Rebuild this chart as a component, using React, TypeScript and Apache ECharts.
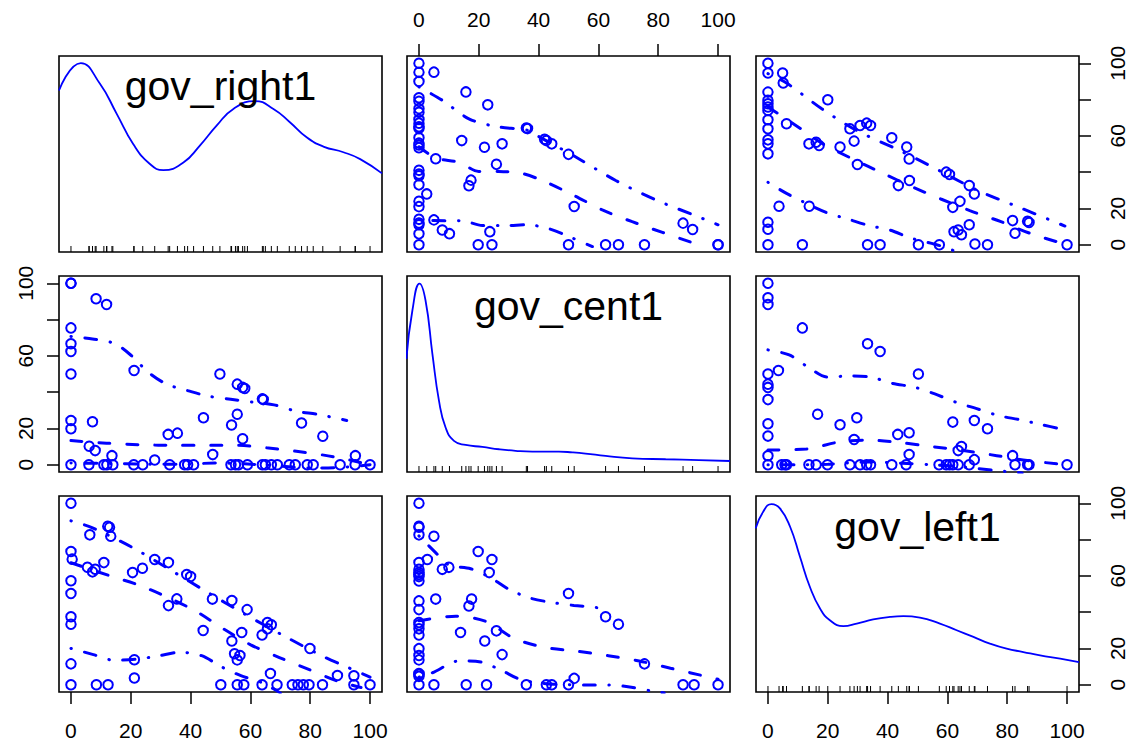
import React, { useEffect, useRef } from 'react';
import * as echarts from 'echarts';

// ---------- data ----------
const variableNames = ['gov_right1', 'gov_cent1', 'gov_left1'];
const tickValues = [0, 20, 40, 60, 80, 100];
const sideLabelValues = [0, 20, 60, 100];

// observations as [gov_cent1, gov_right1]
const centRight: [number, number][] = [
  [100, 0], [100, 0], [91.5, 8.4], [88.3, 11.9], [75.4, 0], [66.7, 0], [62.4, 0], [50, 0],
  [51.9, 21.1], [50, 49.8], [44.4, 55.6], [42.6, 57.4], [42, 58.1], [35.9, 64.3], [36.3, 64.0],
  [25.9, 44.3], [27.8, 55.6], [21.9, 53.7], [23, 77.1], [24.4, 0], [19.8, 0], [23.7, 7.2],
  [16.7, 32.5], [17.4, 35.6], [15.7, 84.2], [14.3, 57.4], [10.2, 6.1], [7.8, 8.1], [5, 13.7],
  [5.6, 47.4], [5, 95.1], [2.6, 28],
  [0, 0], [0, 6], [0, 11], [0, 12], [0, 14], [0, 21], [0, 24], [0, 33], [0, 38], [0, 39], [0, 41],
  [0, 53.5], [0, 55], [0, 56], [0, 59], [0, 64], [0, 65], [0, 67], [0, 69], [0, 73], [0, 75],
  [0, 79], [0, 81], [0, 90], [0, 95], [0, 100],
];

// observations as [gov_left1, gov_right1]
const leftRight: [number, number][] = [
  [0, 100], [0, 94.6], [0, 84.1], [0, 79.6], [0, 77.7], [0, 75.9], [0, 74], [0, 68.9], [0, 63.9],
  [0, 57.8], [0, 55.6], [0, 50.1], [0, 12.4], [0, 8.5], [0, 0],
  [4.9, 94.6], [5.1, 89.1], [6.2, 66.7], [20, 79.9], [3.7, 21.2], [11.5, 0], [13.8, 21.2],
  [13.7, 55.6], [16.1, 56.5], [17.1, 54.7], [24.1, 53.8], [27.4, 63.9], [28.8, 57.1], [29.9, 44.2],
  [30.8, 65.7], [33.0, 67], [34.3, 65.7], [33.3, 0], [37.5, 0], [41.4, 58.9], [43.6, 32.6],
  [46.4, 53.8], [47.2, 47.3], [47.3, 35.4], [50.3, 0], [57.3, 0], [59.6, 40], [60.7, 38.7],
  [61.8, 20.6], [62.2, 7.2], [63.6, 8.1], [64.7, 5.5], [64.2, 23.9], [67.3, 11], [67.3, 32.6],
  [69, 28], [69.2, 0.4], [73.4, 0], [81.8, 13.3], [82.6, 6.3], [86.8, 12.9], [87.3, 12.3], [100, 0],
];

// observations as [gov_left1, gov_cent1]
const leftCent: [number, number][] = [
  [0, 100], [0, 92], [0, 88.3], [0, 50], [0, 44.4], [0, 42.6], [0, 35.9], [0, 22.6], [0, 15.8],
  [0, 5], [0, 0],
  [11.5, 75.4], [3.5, 51.9], [33.3, 66.7], [37.5, 62.4], [50.3, 50], [16.6, 27.8], [24.1, 22],
  [29.7, 25.9], [28.8, 13.9], [43.4, 16.7], [47.2, 17.6], [47.2, 5.6], [61.8, 23.5], [69, 24.4],
  [73.4, 19.8], [64.7, 10], [63.6, 7.8], [69, 2.8], [81.8, 5], [82.6, 0],
  [4.6, 0], [5.7, 0], [6.2, 0], [13.7, 0], [16.1, 0], [19.9, 0], [27.4, 0], [30.8, 0], [33.0, 0],
  [34.3, 0], [41.4, 0], [46.2, 0], [57.2, 0], [59.6, 0], [60.7, 0], [61.8, 0], [63.6, 0],
  [67.3, 0], [86.8, 0], [87.3, 0], [100, 0],
];

// density curves (x, relative height)
const densRight: [number, number][] = [
  [-4, 0.824], [3.3, 0.964], [9.7, 0.858], [15.3, 0.705], [20.8, 0.551], [26.4, 0.449],
  [30.9, 0.418], [37.6, 0.457], [43.1, 0.543], [48.7, 0.645], [54.3, 0.73], [61.5, 0.77],
  [67.7, 0.73], [73.2, 0.662], [78.8, 0.585], [84.4, 0.538], [91.1, 0.509], [96.7, 0.474], [104, 0.401],
];
const densCent: [number, number][] = [
  [-4.2, 0.577], [-2.2, 0.824], [0.2, 0.961], [2.2, 0.875], [4.5, 0.602], [6.7, 0.363], [8.9, 0.227],
  [11.7, 0.159], [15.6, 0.138], [21.2, 0.128], [26.8, 0.116], [32.3, 0.108], [37.9, 0.104],
  [46.8, 0.104], [51.3, 0.1], [55.7, 0.094], [62.4, 0.082], [71.3, 0.07], [82.5, 0.065],
  [93.6, 0.061], [104, 0.056],
];
const densLeft: [number, number][] = [
  [-4.1, 0.835], [-1.6, 0.92], [1.2, 0.959], [4.0, 0.937], [7.4, 0.843], [10.7, 0.69], [14.0, 0.537],
  [17.4, 0.426], [20.7, 0.366], [25.2, 0.336], [29.7, 0.349], [35.2, 0.37], [40.8, 0.383],
  [45.3, 0.387], [50.8, 0.38], [57.5, 0.349], [63.1, 0.315], [68.7, 0.281], [74.2, 0.247],
  [79.8, 0.221], [85.4, 0.204], [91.0, 0.187], [97.7, 0.17], [104, 0.152],
];

// smoother lines, per panel: x var / y var
const fitCentRightMid: [number, number][] = [[0, 54], [5.6, 47.8], [13.4, 45.4], [20, 40.4], [26.7, 40.3], [33.4, 39.7], [41.2, 35.4], [51.3, 27.6], [61.3, 19.2], [71.3, 12.7], [81.4, 6.8], [92, 0.8]];
const fitCentRightUp: [number, number][] = [[0, 87], [7.8, 79.6], [16.7, 69.4], [25.6, 65.2], [36.8, 62.9], [40.1, 59.6], [45.7, 54.6], [53, 47.8], [65.8, 35.4], [79.2, 24.7], [92.5, 16], [100, 11]];
const fitCentRightLo: [number, number][] = [[0, 14], [4.5, 13.3], [14.5, 13.2], [21.2, 10.6], [29, 10.6], [36.2, 11], [43.5, 8.8], [51.3, 3.7], [58, -1]];

const fitLeftRightMid: [number, number][] = [[0, 75.9], [10.2, 64.8], [18.5, 55.4], [28.3, 47.3], [38.4, 39.4], [48.1, 32], [57.8, 25.2], [67.5, 18.8], [77.9, 12.7], [87.6, 6.3], [100, 0]];
const fitLeftRightUp: [number, number][] = [[0, 94.3], [6.2, 89.1], [18, 74.9], [29.7, 62.9], [44.2, 51.8], [57.5, 40.7], [70, 30], [83.7, 20.8], [99.3, 10.3]];
const fitLeftRightLo: [number, number][] = [[0, 34.4], [6.2, 28.3], [19.6, 17.7], [26.5, 14.3], [33.9, 10.5], [40.8, 8.1], [47.7, 3.7], [57.5, -0.5], [64, -4.5]];

const fitRightCentMid: [number, number][] = [[0, 13.3], [11.9, 11.9], [23, 11], [35.4, 10.7], [44.8, 10.7], [55.4, 10.7], [66, 9.2], [77.2, 7], [87.8, 4.4], [100, 0]];
const fitRightCentUp: [number, number][] = [[0, 70.7], [7.2, 69.3], [14.7, 66.7], [20.3, 60], [25.9, 50.9], [32, 44.4], [39.3, 40.7], [45.9, 37.8], [53.4, 36.1], [60.8, 34.5], [67.9, 33], [75.3, 29.5], [82.7, 27.7], [92.2, 24.4]];
const fitRightCentLo: [number, number][] = [[0, 1], [12, 0.7], [25, 0.3], [38, 0.2], [48, 1], [58, 0.5], [68, -0.5], [80, -1.8], [90, -1.5], [100, 0]];

const fitLeftCentMid: [number, number][] = [[0, 8.1], [12.9, 8.7], [24.6, 12.8], [33.9, 13.5], [44.4, 12.2], [54.4, 10.1], [65.3, 7.9], [76.5, 5], [86.7, 2.3], [100, 0]];
const fitLeftCentUp: [number, number][] = [[0, 63.3], [7.1, 60.5], [13.5, 53.7], [19.8, 48.3], [27.1, 48.9], [34.3, 48.3], [41.7, 44.8], [48.8, 42.8], [55.8, 39], [62.9, 34.4], [69.8, 30.9], [77, 27.1], [84.3, 24.8], [91.2, 22.2], [98.8, 19.4]];
const fitLeftCentLo: [number, number][] = [[0, 0], [10, 0], [20, 0.3], [33, 1.5], [45, 0.8], [55, 0], [64, -1], [75, -3], [85, -4.5]];

const fitRightLeftMid: [number, number][] = [[0, 67.2], [12.5, 60.3], [22.5, 55], [32.2, 48.3], [42, 40.3], [50.7, 31.1], [60.1, 22], [69.7, 15], [79.7, 8.3], [89.1, 2], [97, -1.5]];
const fitRightLeftUp: [number, number][] = [[0, 90.3], [7, 86.6], [20.9, 75.3], [33.3, 63.2], [45.5, 51.1], [57.9, 39.1], [71.6, 26.6], [84.7, 15.3], [91.7, 10.2], [100, 4.2]];
const fitRightLeftLo: [number, number][] = [[0, 20], [7.5, 16.6], [14.4, 13.5], [22.2, 14.1], [29.2, 15.9], [36.5, 17.9], [43.7, 16], [50.4, 9.8], [56.8, 5], [63.8, 1.2], [70, -4.5]];

const fitCentLeftMid: [number, number][] = [[0, 35.3], [12.3, 37.8], [22.5, 34.8], [31.8, 25.5], [42.4, 20.5], [52.6, 18.5], [63.3, 16], [73.6, 13.1], [84.1, 9.1], [97, 4.2], [100, 3]];
const fitCentLeftUp: [number, number][] = [[0, 82], [5.4, 73.1], [10, 66], [17.3, 63.9], [24, 58.9], [30.3, 52.4], [37.3, 47.7], [44.6, 45.3], [51.8, 43.7], [59.1, 42.6], [63, 41]];
const fitCentLeftLo: [number, number][] = [[0, 4.2], [4.5, 6.6], [13.4, 13.1], [20.7, 12.5], [27.6, 7.9], [34.3, 2.7], [45, 0.3], [56.3, -0.1], [63.5, -0.1], [71, -1.4], [78, -3.5], [82, -4.5]];

// ---------- layout ----------
const colLeft = [59, 407, 756];
const rowTop = [56, 276, 496];
const panelW = 323;
const panelH = 196;
const BLUE = '#0000ff';
const FONT = '"Liberation Sans", Arial, Helvetica, sans-serif';
const LABEL_SIZE = 21;

const swap = (d: [number, number][]) => d.map(([a, b]) => [b, a]);
const uniq = (v: number[]) => Array.from(new Set(v));

function buildOption() {
  const grids: any[] = [];
  for (let r = 0; r < 3; r++) {
    for (let c = 0; c < 3; c++) {
      grids.push({
        left: colLeft[c], top: rowTop[r], width: panelW, height: panelH,
        show: true, borderColor: '#000', borderWidth: 1.6, backgroundColor: 'transparent',
        containLabel: false, outerBoundsMode: 'none',
      });
    }
  }

  const tickStyle = { color: '#000', width: 1.5 };
  const labelBase = { color: '#000', fontSize: LABEL_SIZE, fontFamily: FONT };
  const noLine = { show: false, onZero: false };

  const xAxes: any[] = [];
  for (let g = 0; g < 9; g++) {
    const top = g === 1;
    const bottom = g === 6 || g === 8;
    const shown = top || bottom;
    xAxes.push({
      type: 'value', gridIndex: g, min: -4, max: 104,
      position: top ? 'top' : 'bottom',
      axisLine: noLine, splitLine: { show: false },
      axisTick: { show: shown, customValues: tickValues, length: 12, lineStyle: tickStyle },
      axisLabel: { show: shown, customValues: tickValues, margin: top ? 26 : 28, ...labelBase },
    });
  }

  const yAxes: any[] = [];
  for (let g = 0; g < 9; g++) {
    const diag = g === 0 || g === 4 || g === 8;
    if (diag) {
      yAxes.push({ type: 'value', gridIndex: g, min: 0, max: 1, show: false, axisLine: noLine, splitLine: { show: false } });
      continue;
    }
    const left = g === 3;
    const right = g === 2;
    const shown = left || right;
    yAxes.push({
      type: 'value', gridIndex: g, min: -4, max: 104,
      position: right ? 'right' : 'left',
      axisLine: noLine, splitLine: { show: false },
      axisTick: { show: shown, customValues: tickValues, length: 12, lineStyle: tickStyle },
      axisLabel: { show: shown, customValues: sideLabelValues, rotate: 90, margin: left ? 23 : 28, ...labelBase },
    });
  }
  // right-side scale for the third row (in the density panel)
  yAxes.push({
    type: 'value', gridIndex: 8, min: -4, max: 104, position: 'right',
    axisLine: noLine, splitLine: { show: false },
    axisTick: { show: true, customValues: tickValues, length: 12, lineStyle: tickStyle },
    axisLabel: { show: true, customValues: sideLabelValues, rotate: 90, margin: 28, ...labelBase },
  });

  const series: any[] = [];
  const scatter = (g: number, data: number[][]) => series.push({
    type: 'scatter', xAxisIndex: g, yAxisIndex: g, data, symbol: 'circle', symbolSize: 9.5,
    itemStyle: { color: 'rgba(0,0,0,0)', borderColor: BLUE, borderWidth: 2, opacity: 1 }, silent: true, z: 2,
  });
  const fit = (g: number, data: number[][], dashed: boolean) => series.push({
    type: 'line', xAxisIndex: g, yAxisIndex: g, data, smooth: 0.3, showSymbol: false, symbol: 'none',
    silent: true, clip: true, z: 3,
    lineStyle: { color: BLUE, width: 3, cap: 'round', type: dashed ? [11, 17] : [0.5, 13.5, 12, 13.5] },
  });
  const dens = (g: number, data: number[][]) => series.push({
    type: 'line', xAxisIndex: g, yAxisIndex: g, data, smooth: true, showSymbol: false, symbol: 'none',
    silent: true, lineStyle: { color: BLUE, width: 1.8 }, z: 3,
  });
  const rug = (g: number, values: number[]) => series.push({
    type: 'scatter', xAxisIndex: g, yAxisIndex: g, data: uniq(values).map((v) => [v, 0]),
    symbol: 'rect', symbolSize: [1, 6], symbolOffset: [0, -3], silent: true, z: 2,
    itemStyle: { color: '#000', opacity: 1 },
  });

  // row 1: y = gov_right1
  dens(0, densRight); rug(0, centRight.map((d) => d[1]));
  scatter(1, centRight);
  fit(1, fitCentRightMid, true); fit(1, fitCentRightUp, false); fit(1, fitCentRightLo, false);
  scatter(2, leftRight);
  fit(2, fitLeftRightMid, true); fit(2, fitLeftRightUp, false); fit(2, fitLeftRightLo, false);

  // row 2: y = gov_cent1
  scatter(3, swap(centRight));
  fit(3, fitRightCentMid, true); fit(3, fitRightCentUp, false); fit(3, fitRightCentLo, false);
  dens(4, densCent); rug(4, centRight.map((d) => d[0]));
  scatter(5, leftCent);
  fit(5, fitLeftCentMid, true); fit(5, fitLeftCentUp, false); fit(5, fitLeftCentLo, false);

  // row 3: y = gov_left1
  scatter(6, swap(leftRight));
  fit(6, fitRightLeftMid, true); fit(6, fitRightLeftUp, false); fit(6, fitRightLeftLo, false);
  scatter(7, swap(leftCent));
  fit(7, fitCentLeftMid, true); fit(7, fitCentLeftUp, false); fit(7, fitCentLeftLo, false);
  dens(8, densLeft); rug(8, leftRight.map((d) => d[0]));

  const titleMid = [86, 306, 527];
  const graphic = variableNames.map((name, i) => ({
    type: 'text', x: colLeft[i] + panelW / 2, y: titleMid[i], silent: true, z: 10,
    style: {
      text: name, fill: '#000', font: `41px ${FONT}`,
      textAlign: 'center', textVerticalAlign: 'middle', align: 'center', verticalAlign: 'middle',
    },
  }));

  return {
    animation: false,
    backgroundColor: '#ffffff',
    grid: grids,
    xAxis: xAxes,
    yAxis: yAxes,
    series,
    graphic,
  };
}

export default function App() {
  const ref = useRef<HTMLDivElement>(null);
  useEffect(() => {
    if (!ref.current) return;
    const chart = echarts.init(ref.current, undefined, { renderer: 'svg' });
    chart.setOption(buildOption() as any);
    return () => chart.dispose();
  }, []);
  return (
    <div
      ref={ref}
      style={{ position: 'absolute', left: 0, top: 0, width: 1129, height: 742, background: '#fff' }}
    />
  );
}
